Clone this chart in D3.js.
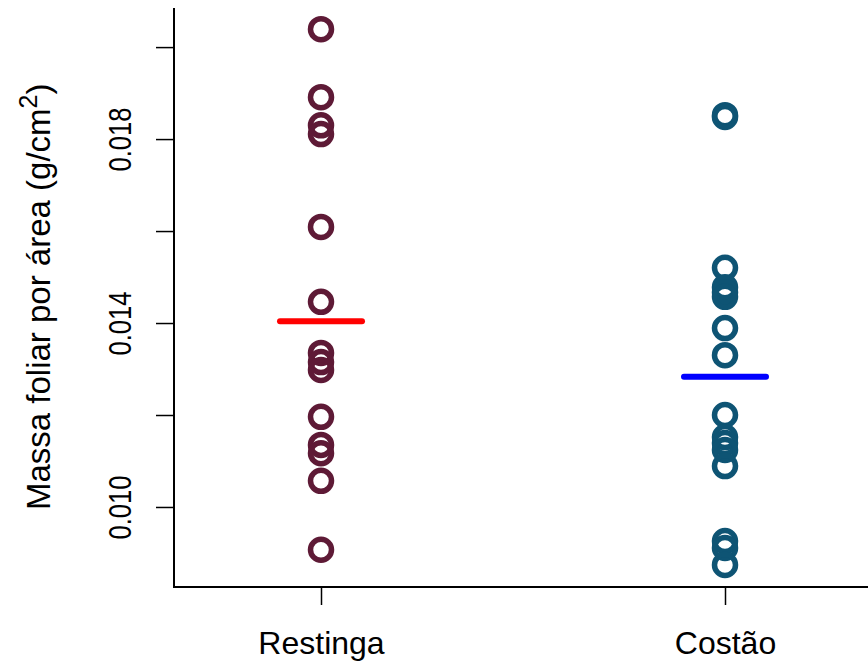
<!DOCTYPE html>
<html>
<head>
<meta charset="utf-8">
<script src="https://cdn.jsdelivr.net/npm/d3@7"></script>
<style>
  body { margin: 0; background: #fff; }
  text { font-family: "Liberation Sans", Arial, sans-serif; fill: #000; }
</style>
</head>
<body>
<div id="chart"></div>
<script>
// data
const categories = ["Restinga", "Costão"];
const restinga = [0.02039, 0.01891, 0.0183, 0.01811, 0.01609, 0.01446, 0.01335,
  0.01315, 0.01298, 0.01196, 0.01135, 0.01117, 0.01057, 0.00907];
const costao = [0.01852, 0.01848, 0.0152, 0.01478, 0.01467, 0.01457, 0.01389,
  0.0133, 0.012, 0.01152, 0.01139, 0.01124, 0.01089, 0.00926, 0.00911, 0.00874];
const means = [0.01404, 0.01283];
const yTicks = [0.01, 0.012, 0.014, 0.016, 0.018, 0.02];
const yTickLabels = ["0.010", "", "0.014", "", "0.018", ""];

const pointColors = ["#5e1a36", "#0e5474"];
const meanColors = ["#ff0000", "#0000ff"];

const width = 868,
  height = 669;
const margin = { top: 8, right: 0, bottom: 82, left: 174 };

let svg = d3
  .select("#chart")
  .append("svg")
  .attr("width", width)
  .attr("height", height);

let x = d3.scalePoint().domain(categories).range([321, 725]);
let y = d3
  .scaleLinear()
  .domain([0.00826, 0.02085])
  .range([height - margin.bottom, margin.top]);

// L-shaped box
svg
  .append("path")
  .attr("fill", "none")
  .attr("stroke", "#000")
  .attr("stroke-width", 2)
  .attr(
    "d",
    "M" + margin.left + "," + margin.top +
      "V" + (height - margin.bottom) +
      "H" + width
  );

// y axis
let yAxis = svg
  .append("g")
  .attr("class", "y-axis")
  .attr("transform", "translate(" + margin.left + ",0)")
  .call(
    d3
      .axisLeft(y)
      .tickValues(yTicks)
      .tickSize(18)
      .tickFormat((d, i) => yTickLabels[i])
  );
yAxis.select(".domain").remove();
yAxis.selectAll(".tick line").attr("stroke", "#000").attr("stroke-width", 1.5);
yAxis
  .selectAll(".tick text")
  .attr("font-size", 32)
  .attr("x", 0)
  .attr("y", 0)
  .attr("dy", 0)
  .attr("text-anchor", "middle")
  .attr("transform", "translate(-43,0) rotate(-90) scale(0.8,1)");

// x axis
let xAxis = svg
  .append("g")
  .attr("class", "x-axis")
  .attr("transform", "translate(0," + (height - margin.bottom) + ")")
  .call(d3.axisBottom(x).tickSize(18).tickPadding(26));
xAxis.select(".domain").remove();
xAxis.selectAll(".tick line").attr("stroke", "#000").attr("stroke-width", 1.5);
xAxis.selectAll(".tick text").attr("font-size", 32);

// y title
let title = svg
  .append("text")
  .attr("transform", "translate(50," + y(0.01457) + ") rotate(-90)")
  .attr("text-anchor", "middle")
  .attr("font-size", 33);
title.append("tspan").text("Massa foliar por área (g/cm");
title.append("tspan").attr("font-size", 25).attr("dy", -13).text("2");
title.append("tspan").attr("dy", 13).text(")");

// points
[restinga, costao].forEach(function (vals, i) {
  svg
    .append("g")
    .selectAll("circle")
    .data(vals)
    .join("circle")
    .attr("cx", x(categories[i]))
    .attr("cy", (d) => y(d))
    .attr("r", 10.5)
    .attr("fill", "none")
    .attr("stroke", pointColors[i])
    .attr("stroke-width", 5.5);
});

// mean lines
svg
  .append("g")
  .selectAll("line")
  .data(means)
  .join("line")
  .attr("x1", (d, i) => x(categories[i]) - 41)
  .attr("x2", (d, i) => x(categories[i]) + 41)
  .attr("y1", (d) => y(d))
  .attr("y2", (d) => y(d))
  .attr("stroke", (d, i) => meanColors[i])
  .attr("stroke-width", 6)
  .attr("stroke-linecap", "round");
</script>
</body>
</html>
